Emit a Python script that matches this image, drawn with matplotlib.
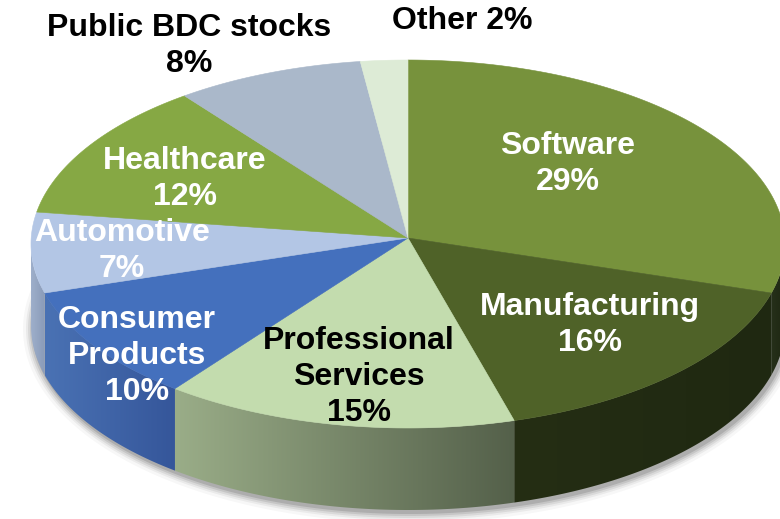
import numpy as np
import matplotlib
matplotlib.use("Agg")
import matplotlib.pyplot as plt
from matplotlib.patches import Polygon
from matplotlib.colors import to_rgb

# ---- data ----
categories = ["Software", "Manufacturing", "Professional\nServices", "Consumer\nProducts",
              "Automotive", "Healthcare", "Public BDC stocks", "Other"]
values = [29, 16, 15, 10, 7, 12, 8, 2]
pct_labels = [f"{v}%" for v in values]

# ---- styles ----
top_colors = ["#77923C", "#4F6228", "#C3DCAE", "#4470BD", "#B3C6E5", "#86A844", "#AAB8CA", "#DDEBD6"]
wall_left = ["#26301A", "#252E14", "#9AAD88", "#4A72B4", "#9EAFCB", "#6E8A3A", "#8E9AAA", "#B8C4B2"]
wall_right = ["#1E2712", "#1F2811", "#54604A", "#35569A", "#8A9BB8", "#5E7830", "#7A8696", "#A0AC9A"]
text_colors = ["white", "white", "black", "white", "white", "white", "black", "black"]
label_sep = ["\n", "\n", "\n", "\n", "\n", "\n", "\n", " "]
label_xy = [(568, 164), (590, 325), (359, 377), (137, 356), (122, 251), (185, 179), (189, 46), (462, 21)]

# ---- geometry (pixel space) ----
W, H = 780, 519
CX, CY = 408, 244
A, B = 377, 184
APEX = (408, 238)
DEPTH = 82

fig = plt.figure(figsize=(W / 100, H / 100), dpi=100)
ax = fig.add_axes([0, 0, 1, 1])
ax.set_xlim(0, W)
ax.set_ylim(H, 0)
ax.axis("off")

total = float(sum(values))
cum = np.concatenate([[0], np.cumsum(values)]) / total * 360.0
starts = 90 - cum[:-1]
ends = 90 - cum[1:]


def arc(t1, t2, n=200, dy=0.0):
    t = np.radians(np.linspace(t1, t2, n))
    return np.column_stack([CX + A * np.cos(t), CY - B * np.sin(t) + dy])


# shadow under the pie
for k, al in [(10, 0.03), (7, 0.05), (5, 0.07), (3, 0.09), (1, 0.12)]:
    t = np.radians(np.linspace(0, 360, 400))
    pts = np.column_stack([CX + 2 + (A + k) * np.cos(t), CY + DEPTH + 3 - (B + k) * np.sin(t)])
    ax.add_patch(Polygon(pts, closed=True, facecolor="black", edgecolor="none", alpha=al, zorder=1))

# side walls (front half only)
for i in range(len(values)):
    hi, lo = starts[i], ends[i]
    a1, a2 = min(hi, 0), max(lo, -180)
    if a1 <= a2:
        continue
    top = arc(a1, a2)
    bot = arc(a2, a1, dy=DEPTH)
    pts = np.vstack([top, bot])
    poly = Polygon(pts, closed=True, facecolor="none", edgecolor="none", zorder=2)
    ax.add_patch(poly)
    x0, x1 = pts[:, 0].min(), pts[:, 0].max()
    y0, y1 = pts[:, 1].min(), pts[:, 1].max()
    c0, c1 = np.array(to_rgb(wall_left[i])), np.array(to_rgb(wall_right[i]))
    f = np.linspace(0, 1, 256)[None, :, None]
    grad = c0[None, None, :] * (1 - f) + c1[None, None, :] * f
    im = ax.imshow(grad, extent=[x0, x1, y1, y0], aspect="auto", zorder=2, interpolation="bilinear")
    im.set_clip_path(poly)

# top faces
for i in range(len(values)):
    pts = np.vstack([[APEX], arc(starts[i], ends[i])])
    ax.add_patch(Polygon(pts, closed=True, facecolor=top_colors[i], edgecolor=top_colors[i],
                         linewidth=0.4, zorder=3))

# labels
for i in range(len(values)):
    x, y = label_xy[i]
    ax.text(x, y, categories[i] + label_sep[i] + pct_labels[i], ha="center", va="center",
            fontsize=23, fontweight="bold", family=["Liberation Sans", "DejaVu Sans"],
            color=text_colors[i], linespacing=1.25, zorder=5)

fig.savefig("out.png", dpi=100)
